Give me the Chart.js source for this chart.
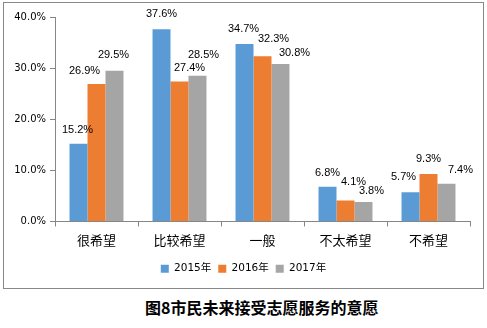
<!DOCTYPE html>
<html>
<head>
<meta charset="utf-8">
<script src="https://cdn.jsdelivr.net/npm/chart.js@4"></script>
<style>
    body { margin: 0; background: #fff; }
    #box {
        position: absolute; left: 3px; top: 2px;
        width: 479px; height: 285px;
        border: 1px solid #888;
    }
    #caption {
        position: absolute; left: 145px; top: 297px;
        font: bold 16px "Noto Sans CJK SC", sans-serif;
        line-height: 20px; color: #000; white-space: nowrap;
    }
</style>
</head>
<body>
<div id="box"><canvas id="wishChart" width="479" height="285"></canvas></div>
<div id="caption">图8市民未来接受志愿服务的意愿</div>
<script>
const categories = ["很希望", "比较希望", "一般", "不太希望", "不希望"];
const seriesNames = ["2015年", "2016年", "2017年"];
const values2015 = [15.2, 37.6, 34.7, 6.8, 5.7];
const values2016 = [26.9, 27.4, 32.3, 4.1, 9.3];
const values2017 = [29.5, 28.5, 30.8, 3.8, 7.4];
const yTicks = [0, 10, 20, 30, 40];

const axisColor = "#868686";

// the value labels were nudged by hand in the original, so keep their offsets
// (px, per series then per category): sideways shift and height above the bar top
const labelShiftX = [[-1, 0, -1, 0, -7], [-12, 10, 11, 8, 0], [-1, 6, 14, 8, 14]];
const labelRise = [[14, 15, 15, 14, 15], [13, 13, 17, 19, 15], [16, 21, 11, 11, 14]];

const valueLabels = {
    id: "valueLabels",
    afterDatasetsDraw(chart) {
        const ctx = chart.ctx;
        ctx.save();
        ctx.font = "11px 'Liberation Sans'";
        ctx.fillStyle = "#000";
        ctx.textAlign = "center";
        ctx.textBaseline = "middle";
        chart.data.datasets.forEach((ds, i) => {
            chart.getDatasetMeta(i).data.forEach((bar, j) => {
                ctx.fillText(ds.data[j].toFixed(1) + "%",
                    bar.x + labelShiftX[i][j], bar.y - labelRise[i][j]);
            });
        });
        ctx.restore();
    },
};

// legend sits centred on the whole box, not on the padded width
const legendCentre = {
    id: "legendCentre",
    afterLayout(chart) {
        chart.legend.left += 13;
    },
};

const ctx = document.getElementById("wishChart").getContext("2d");
new Chart(ctx, {
    type: "bar",
    data: {
        labels: categories,
        datasets: [
            { label: seriesNames[0], data: values2015, backgroundColor: "#5B9BD5" },
            { label: seriesNames[1], data: values2016, backgroundColor: "#ED7D31" },
            { label: seriesNames[2], data: values2017, backgroundColor: "#A5A5A5" },
        ],
    },
    options: {
        responsive: false,
        animation: false,
        datasets: {
            bar: { categoryPercentage: 0.65, barPercentage: 1 },
        },
        layout: {
            padding: { left: 0, right: 13, top: 14, bottom: 4 },
        },
        scales: {
            x: {
                grid: {
                    drawOnChartArea: false,
                    tickLength: 5,
                    color: axisColor,
                },
                border: { color: axisColor },
                ticks: {
                    color: "#000",
                    padding: 6,
                    font: { family: "'Noto Sans CJK SC'", size: 13 },
                },
                afterFit(scale) {
                    scale.height = 35;
                },
            },
            y: {
                min: 0,
                max: 40,
                afterBuildTicks(scale) {
                    scale.ticks = yTicks.map((v) => ({ value: v }));
                },
                grid: {
                    drawOnChartArea: false,
                    tickLength: 5,
                    color: axisColor,
                },
                border: { color: axisColor },
                ticks: {
                    color: "#000",
                    padding: 4,
                    font: { family: "'DejaVu Sans'", size: 10 },
                    callback: (v) => v.toFixed(1) + "%",
                },
                afterFit(scale) {
                    scale.width = 51;
                },
            },
        },
        plugins: {
            legend: {
                position: "bottom",
                labels: {
                    boxWidth: 8,
                    boxHeight: 8,
                    padding: 7,
                    color: "#000",
                    font: { family: "'DejaVu Sans', 'Noto Sans CJK SC'", size: 10.5 },
                },
            },
            tooltip: { enabled: false },
        },
    },
    plugins: [valueLabels, legendCentre],
});
</script>
</body>
</html>
